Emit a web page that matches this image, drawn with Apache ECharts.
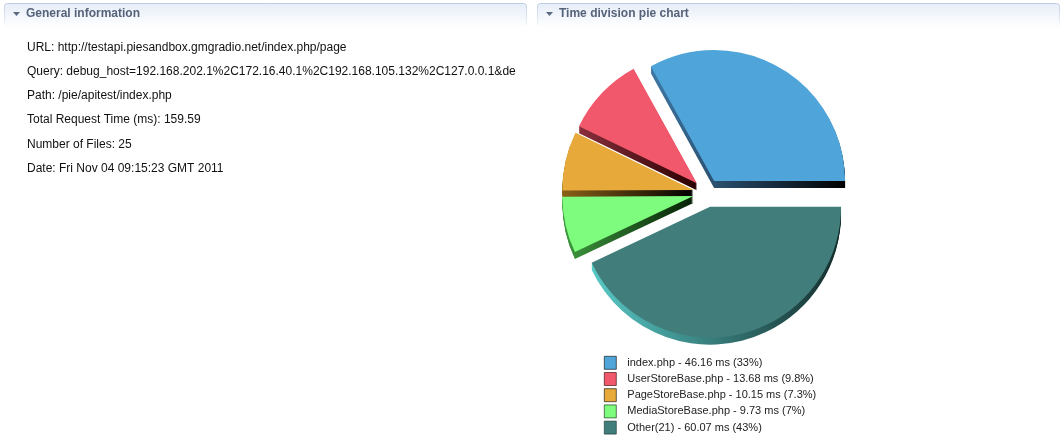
<!DOCTYPE html>
<html>
<head>
<meta charset="utf-8">
<style>
html,body{margin:0;padding:0;background:#fff;}
#chart{width:1064px;height:441px;}
</style>
<script src="https://cdn.jsdelivr.net/npm/echarts@6/dist/echarts.min.js"></script>
</head>
<body>
<div id="chart"></div>
<script>
// ---- data ----
var files = ['index.php', 'UserStoreBase.php', 'PageStoreBase.php', 'MediaStoreBase.php', 'Other(21)'];
var timesMs = [46.16, 13.68, 10.15, 9.73, 60.07];
var pctLabels = ['33', '9.8', '7.3', '7', '43'];
var infoLines = [
  'URL: http://testapi.piesandbox.gmgradio.net/index.php/page',
  'Query: debug_host=192.168.202.1%2C172.16.40.1%2C192.168.105.132%2C127.0.0.1&de',
  'Path: /pie/apitest/index.php',
  'Total Request Time (ms): 159.59',
  'Number of Files: 25',
  'Date: Fri Nov 04 09:15:23 GMT 2011'
];
var panelTitles = ['General information', 'Time division pie chart'];

// ---- style ----
var faceColors = ['#4fa4d9', '#f2586b', '#e6a93a', '#7efc7d', '#417e7b'];
var depthColors = [
  ['#3f78a6', '#000000'],
  ['#8a2f3c', '#2a0000'],
  ['#8a6018', '#000000'],
  ['#3f9a3f', '#062006'],
  ['#58c9c6', '#142c2b']
];

var chart = echarts.init(document.getElementById('chart'), null, {renderer: 'canvas'});

function header(x, w, title) {
  return [
    {
      type: 'rect', silent: true,
      shape: {x: x + 0.5, y: 3.5, width: w, height: 24, r: 3},
      style: {
        fill: new echarts.graphic.LinearGradient(0, 0, 0, 1, [
          {offset: 0, color: '#e6edf8'}, {offset: 1, color: '#ffffff'}
        ]),
        stroke: new echarts.graphic.LinearGradient(0, 0, 0, 1, [
          {offset: 0, color: '#bccbe6'}, {offset: 0.8, color: '#eef2f9'}, {offset: 1, color: '#ffffff'}
        ]),
        lineWidth: 1
      }
    },
    {
      type: 'polygon', silent: true,
      shape: {points: [[x + 9, 12], [x + 16, 12], [x + 12.5, 16]]},
      style: {fill: '#5b6a80'}
    },
    {
      type: 'text', silent: true,
      x: x + 22, y: 14,
      style: {
        text: title, fill: '#55637a',
        font: 'bold 12px "Liberation Sans", Arial, sans-serif',
        verticalAlign: 'middle'
      }
    }
  ];
}

var graphics = [].concat(header(4, 522, panelTitles[0]), header(537, 522, panelTitles[1]));
infoLines.forEach(function (t, i) {
  graphics.push({
    type: 'text', silent: true,
    x: 27, y: 47.5 + i * 24.2,
    style: {
      text: t, fill: '#111111',
      font: '12px "Liberation Sans", Arial, sans-serif',
      verticalAlign: 'middle'
    }
  });
});

var center = [707, 193];
var radius = 131;
var offset = 14;

function pieData(depth) {
  return files.map(function (f, i) {
    var style;
    if (depth) {
      style = {
        color: new echarts.graphic.LinearGradient(0, 0, 1, 0, [
          {offset: 0, color: depthColors[i][0]}, {offset: 1, color: depthColors[i][1]}
        ])
      };
    } else {
      style = {color: faceColors[i]};
    }
    return {name: f, value: timesMs[i], selected: true, itemStyle: style};
  });
}

var series = [{
  type: 'pie',
  name: 'main',
  z: 5,
  center: center,
  radius: radius,
  startAngle: 0,
  clockwise: false,
  selectedMode: 'multiple',
  selectedOffset: offset,
  animation: false,
  label: {show: false},
  labelLine: {show: false},
  emphasis: {disabled: true, scale: false},
  itemStyle: {borderWidth: 0},
  data: pieData(false)
}];
[7, 6, 5, 4, 3, 2, 1].forEach(function (dy) {
  series.push({
    type: 'pie',
    name: 'depth' + dy,
    z: 1,
    silent: true,
    center: [center[0], center[1] + dy],
    radius: radius,
    startAngle: 0,
    clockwise: false,
    selectedMode: 'multiple',
    selectedOffset: offset,
    animation: false,
    label: {show: false},
    labelLine: {show: false},
    emphasis: {disabled: true, scale: false},
    itemStyle: {borderWidth: 0},
    data: pieData(true)
  });
});

chart.setOption({
  animation: false,
  tooltip: {show: false},
  legend: {
    orient: 'vertical',
    left: 604,
    top: 356,
    height: 86,
    padding: 0,
    itemWidth: 12,
    itemHeight: 13,
    itemGap: 2.6,
    icon: 'rect',
    selectedMode: false,
    data: files.map(function (f, i) {
      return {name: f, itemStyle: {color: faceColors[i], borderColor: depthColors[i][1], borderWidth: 0.6}};
    }),
    textStyle: {
      color: '#222222',
      fontSize: 11,
      lineHeight: 13,
      fontFamily: '"Liberation Sans", Arial, sans-serif',
      padding: [0, 0, 0, 6]
    },
    formatter: function (name) {
      var i = files.indexOf(name);
      return name + ' - ' + timesMs[i] + ' ms (' + pctLabels[i] + '%)';
    }
  },
  graphic: graphics,
  series: series
});
</script>
</body>
</html>
